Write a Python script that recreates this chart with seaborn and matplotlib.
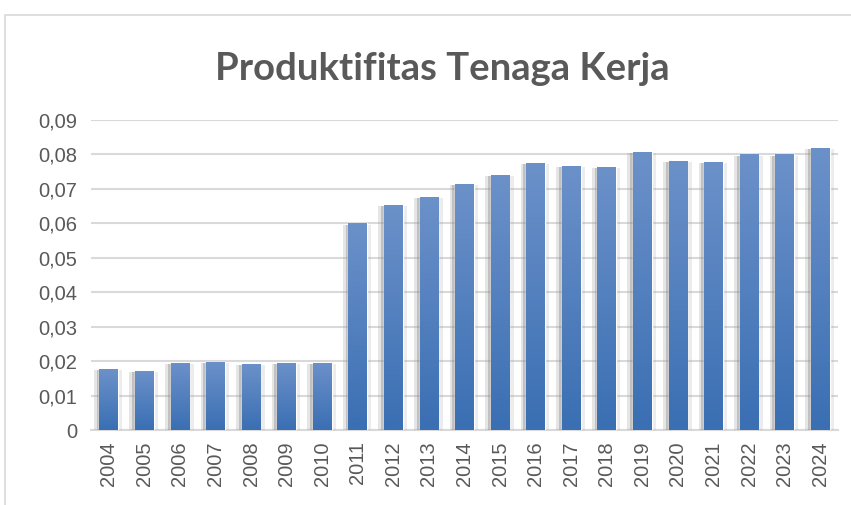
import numpy as np
import pandas as pd
import matplotlib
matplotlib.use("Agg")
import matplotlib.pyplot as plt
import matplotlib.patheffects as pe
from matplotlib.patches import Rectangle
import seaborn as sns

# data
years = [str(y) for y in range(2004, 2025)]
produktifitas = [0.0177, 0.0172, 0.0195, 0.0198, 0.0192, 0.0195, 0.0195,
                 0.0600, 0.0654, 0.0677, 0.0715, 0.0741, 0.0776, 0.0767,
                 0.0764, 0.0808, 0.0782, 0.0779, 0.0800, 0.0800, 0.0820]
y_ticks = [0, 0.01, 0.02, 0.03, 0.04, 0.05, 0.06, 0.07, 0.08, 0.09]
y_labels = ["0", "0,01", "0,02", "0,03", "0,04", "0,05", "0,06", "0,07", "0,08", "0,09"]

df = pd.DataFrame({"tahun": years, "nilai": produktifitas})

sns.set_theme(style="white")
plt.rcParams["font.family"] = ["Liberation Sans", "DejaVu Sans"]

W, H = 851, 505
fig = plt.figure(figsize=(W / 100, H / 100), dpi=100)
ax = fig.add_axes([91 / W, 1 - 430 / H, (838 - 91) / W, (430 - 120) / H])

sns.barplot(data=df, x="tahun", y="nilai", color="#4F7FC0", width=0.53,
            saturation=1, ax=ax, zorder=3)

# gradient fill + soft shadow on each bar
grad = np.linspace(0, 1, 100).reshape(-1, 1)
cmap = matplotlib.colors.LinearSegmentedColormap.from_list(
    "bar", ["#3A6FB3", "#6C91C9"])
for p in ax.patches:
    p.set_path_effects([
        pe.SimplePatchShadow(offset=(-4, -1), shadow_rgbFace="#9A9A9A", alpha=0.25),
        pe.SimplePatchShadow(offset=(3, -1), shadow_rgbFace="#9A9A9A", alpha=0.18),
        pe.SimplePatchShadow(offset=(-2, -1), shadow_rgbFace="#7F7F7F", alpha=0.35),
        pe.Normal()])
    x0, y0 = p.get_x(), p.get_y()
    im = ax.imshow(grad, extent=(x0, x0 + p.get_width(), y0, y0 + p.get_height()),
                   origin="lower", cmap=cmap, aspect="auto", zorder=4)
    im.set_clip_path(p)

ax.set_xlim(-0.5, len(years) - 0.5)
ax.set_ylim(0, 0.09)
ax.set_yticks(y_ticks)
ax.set_yticklabels(y_labels)
ax.yaxis.grid(True, color="#D9D9D9", linewidth=1.5, zorder=0)
ax.set_axisbelow(True)
for s in ["top", "right", "left"]:
    ax.spines[s].set_visible(False)
ax.spines["bottom"].set_color("#D9D9D9")
ax.spines["bottom"].set_linewidth(1.5)
ax.tick_params(axis="both", length=0, labelsize=14.5, colors="#595959", pad=8)
ax.tick_params(axis="y", pad=10)
plt.setp(ax.get_xticklabels(), rotation=90)
ax.set_xlabel("")
ax.set_ylabel("")

fig.text(442 / W, 1 - 69 / H, "Produktifitas Tenaga Kerja", ha="center", va="center",
         fontsize=27.5, fontweight="bold", color="#595959", family=["Lato", "DejaVu Sans"])

fig.patches.append(Rectangle((5 / W, -0.1), 1.2, 1 + 0.1 - 15 / H, transform=fig.transFigure,
                             fill=False, edgecolor="#D9D9D9", linewidth=1.2))

fig.savefig("out.png", dpi=100)
